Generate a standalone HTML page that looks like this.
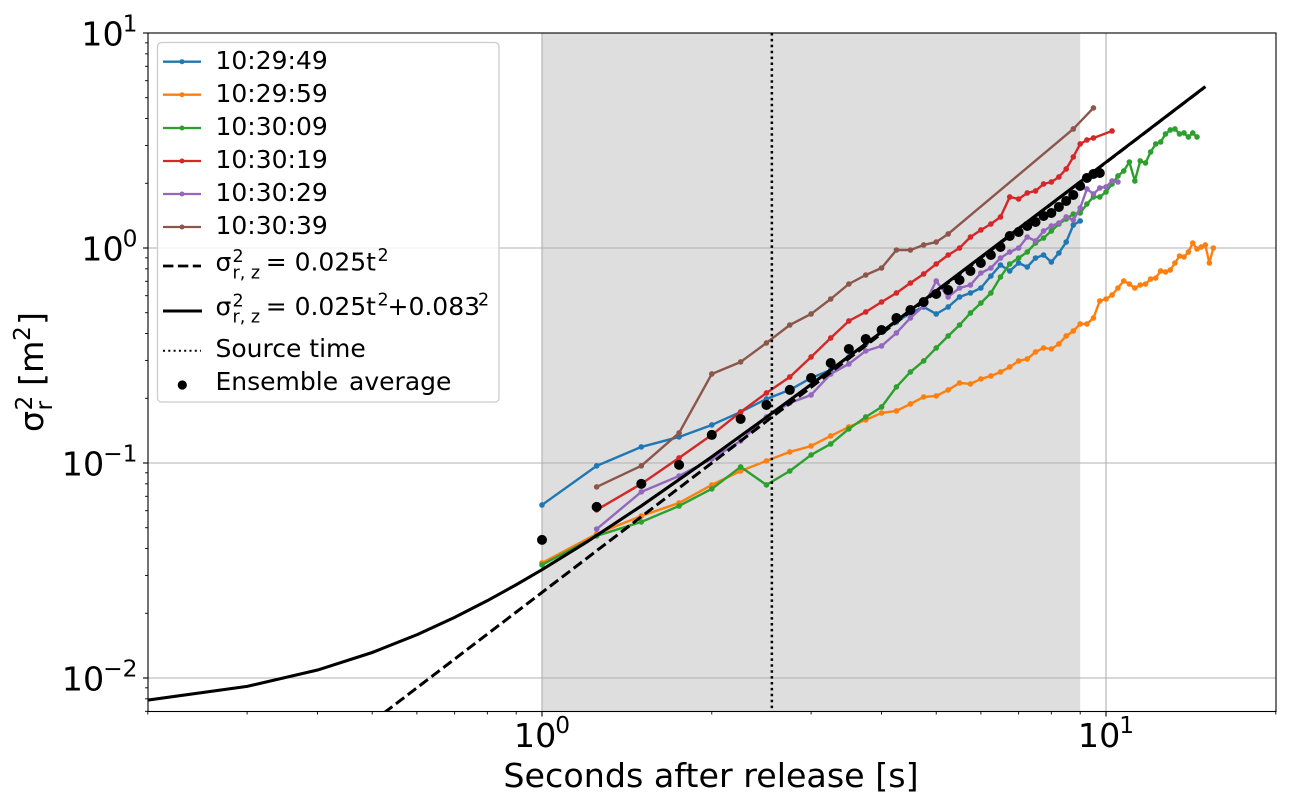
<!DOCTYPE html>
<html lang="en">
<head>
<meta charset="utf-8">
<title>Dispersion chart</title>
<style>
html,body{margin:0;padding:0;background:#fff;width:1291px;height:804px;overflow:hidden;}
svg{display:block;font-family:"DejaVu Sans","Liberation Sans",sans-serif;fill:#000;overflow:hidden;}
script{display:none;}
</style>
</head>
<body>
<svg id="chart" xmlns="http://www.w3.org/2000/svg" width="1291" height="804" viewBox="0 0 1291 804">
  <defs><clipPath id="plot-clip"><rect x="148" y="33" width="1128" height="679"/></clipPath></defs>
  <g id="plot-layer"></g>
  <g id="axes-layer"></g>

  <text x="711" y="787" font-size="33.3" text-anchor="middle">Seconds after release [s]</text>
  <g transform="translate(43,432) rotate(-90)">
    <text x="0" y="0" font-size="33.3">σ</text>
    <text x="21.5" y="-11" font-size="23.3">2</text>
    <text x="21.5" y="9" font-size="23.3">r</text>
    <text x="46" y="0" font-size="33.3">[m</text>
    <text x="91" y="-13" font-size="23.3">2</text>
    <text x="107" y="0" font-size="33.3">]</text>
  </g>

  <g font-size="25">
    <rect x="157.5" y="42.5" width="341.5" height="359.5" rx="4" fill="#fff" fill-opacity="0.8" stroke="#ccc" stroke-width="1.3"/>
    <g><line x1="163" x2="201" y1="61.7" y2="61.7" stroke="#1f77b4" stroke-width="2.3"/><circle cx="182" cy="61.7" r="2.5" fill="#1f77b4"/><text x="215.5" y="69">10:29:49</text></g>
    <g><line x1="163" x2="201" y1="94.7" y2="94.7" stroke="#ff7f0e" stroke-width="2.3"/><circle cx="182" cy="94.7" r="2.5" fill="#ff7f0e"/><text x="215.5" y="102">10:29:59</text></g>
    <g><line x1="163" x2="201" y1="128" y2="128" stroke="#2ca02c" stroke-width="2.3"/><circle cx="182" cy="128" r="2.5" fill="#2ca02c"/><text x="215.5" y="135">10:30:09</text></g>
    <g><line x1="163" x2="201" y1="161" y2="161" stroke="#d62728" stroke-width="2.3"/><circle cx="182" cy="161" r="2.5" fill="#d62728"/><text x="215.5" y="168">10:30:19</text></g>
    <g><line x1="163" x2="201" y1="194" y2="194" stroke="#9467bd" stroke-width="2.3"/><circle cx="182" cy="194" r="2.5" fill="#9467bd"/><text x="215.5" y="201">10:30:29</text></g>
    <g><line x1="163" x2="201" y1="227" y2="227" stroke="#8c564b" stroke-width="2.3"/><circle cx="182" cy="227" r="2.5" fill="#8c564b"/><text x="215.5" y="234">10:30:39</text></g>
    <g>
      <line x1="163" x2="201" y1="266" y2="266" stroke="#000" stroke-width="2.8" stroke-dasharray="10.4 4.5"/>
      <text x="215.5" y="270.5">σ</text><text x="232.5" y="262" font-size="17.5">2</text><text x="232.5" y="278.3" font-size="17.5">r, z</text>
      <text x="265.7" y="270.5">= 0.025t</text><text x="377.5" y="261" font-size="17.5">2</text>
    </g>
    <g>
      <line x1="163" x2="202" y1="311" y2="311" stroke="#000" stroke-width="3"/>
      <text x="215.5" y="315">σ</text><text x="232.5" y="306.7" font-size="17.5">2</text><text x="232.5" y="322.3" font-size="17.5">r, z</text>
      <text x="265.7" y="315">= 0.025t</text><text x="377.5" y="305.5" font-size="17.5">2</text>
      <text x="387.5" y="315">+0.083</text><text x="478" y="305.5" font-size="17.5">2</text>
    </g>
    <g><line x1="163" x2="201" y1="350.7" y2="350.7" stroke="#000" stroke-width="2" stroke-dasharray="2 3.3"/><text x="215.5" y="357">Source time</text></g>
    <g><circle cx="182.3" cy="385" r="4.6" fill="#000"/><text x="215.5" y="390" word-spacing="3">Ensemble average</text></g>
  </g>
</svg>

<script>
const timeGrid = [1,1.25,1.5,1.75,2,2.25,2.5,2.75,3,3.25,3.5,3.75,4,4.25,4.5,4.75,5,5.25,5.5,5.75,6,6.25,6.5,6.75,7,7.25,7.5,7.75,8,8.25,8.5,8.75,9,9.25,9.5,9.75,10,10.25,10.5,10.75,11,11.25,11.5,11.75,12,12.25,12.5,12.75,13,13.25,13.5,13.75,14,14.25,14.5,14.75,15,15.25,15.5];

const times102949 = timeGrid.slice(0,33);
const values102949 = [.0638,.0970,.1188,.1322,.1503,.1728,.1985,.2187,.2486,.2709,.3113,.3578,.4068,.4528,.4986,.5317,.4933,.5317,.5918,.6177,.6516,.7410,.8335,.7818,.8516,.8159,.8985,.9278,.8608,.9479,1.066,1.279,1.336];

const times102959 = timeGrid.slice(0,59);
const values102959 = [.0343,.0468,.0567,.0652,.0791,.0918,.1023,.1126,.1200,.1336,.1472,.1586,.1709,.1746,.1882,.2029,.2051,.2187,.2357,.2332,.2460,.2540,.2651,.2797,.2983,.3047,.3285,.3428,.3392,.3578,.3898,.4112,.4432,.4432,.4726,.5670,.5792,.6046,.6516,.7024,.6801,.6516,.6728,.6801,.7175,.7253,.7818,.7735,.7902,.8516,.9180,.9082,.9582,1.055,.9894,1.011,1.033,.8516,1.000];

const times103009 = timeGrid.slice(0,55);
const values103009 = [.0336,.0458,.0532,.0631,.0758,.0959,.0791,.0918,.1090,.1226,.1440,.1637,.1822,.2258,.2651,.2983,.3428,.3898,.4384,.4986,.5549,.6177,.7331,.8426,.8985,.9582,1.055,1.113,1.200,1.293,1.364,1.439,1.455,1.602,1.727,1.727,1.822,1.985,2.163,2.282,2.512,2.050,2.540,2.486,2.797,3.047,3.113,3.391,3.540,3.578,3.391,3.428,3.284,3.428,3.284];

const times103019 = [1.25,1.5,1.75,2,2.25,2.5,2.75,3,3.25,3.5,3.75,4,4.25,4.5,4.75,5,5.25,5.5,5.75,6,6.25,6.5,6.75,7,7.25,7.5,7.75,8,8.25,8.5,8.75,9,9.25,9.5,10.25];
const values103019 = [.0605,.0800,.1056,.1351,.1728,.2117,.2513,.3113,.3815,.4577,.5040,.5609,.6177,.6874,.7571,.8426,.9278,1,1.125,1.213,1.293,1.394,1.727,1.690,1.803,1.842,1.985,2.028,2.140,2.331,2.651,3.047,3.180,3.249,3.502];

const times103029 = timeGrid.slice(1,39);
const values103029 = [.0493,.0734,.0870,.1045,.1267,.1637,.1902,.2072,.2595,.2888,.3320,.3502,.4025,.4726,.5374,.7024,.5918,.6516,.6728,.7652,.8072,.8985,.9582,1,1.125,1.078,1.200,1.266,1.307,1.394,1.350,1.535,1.882,1.784,1.902,1.923,2.050,2.028];

const times103039 = [1.25,1.5,1.75,2,2.25,2.5,2.75,3,3.25,3.5,3.75,4,4.25,4.5,4.75,5,5.25,8.75,9.5];
const values103039 = [.0774,.0970,.1380,.2595,.2951,.3617,.4384,.4933,.5792,.6801,.7489,.8072,.9789,.9789,1.033,1.066,1.162,3.578,4.481];

const fitDashedTimes = [.5,.6,.7,.8,.9,1,1.2,1.5,2,2.5,3,4,5,6,8,10,12,15];
const fitDashedValues = [.00625,.009,.01225,.016,.02025,.025,.036,.05625,.1,.15625,.225,.4,.625,.9,1.6,2.5,3.6,5.625];
const fitSolidTimes = [.2,.3,.4,.5,.6,.7,.8,.9,1,1.2,1.5,2,2.5,3,4,5,6,8,10,12,15];
const fitSolidValues = [.00789,.00914,.01089,.01314,.01589,.01914,.02289,.02714,.03189,.04289,.06314,.10689,.16314,.23189,.40689,.63189,.90689,1.60689,2.50689,3.60689,5.63189];

const ensembleTimes = timeGrid.slice(0,36);
const ensembleValues = [.0439,.0625,.0800,.0980,.1351,.1603,.1862,.2187,.2486,.2919,.3392,.3775,.4156,.4726,.5149,.5609,.6112,.6379,.7099,.7818,.8516,.9278,1.011,1.137,1.187,1.266,1.321,1.409,1.455,1.552,1.655,1.765,1.943,2.117,2.210,2.233];

const sourceTime = 2.556;
const shadeStart = 1;
const shadeEnd = 9;

const xMajorTicks = [1,10];
const xMajorLabels = ['0','1'];
const xMinorTicks = [.2,.3,.4,.5,.6,.7,.8,.9,2,3,4,5,6,7,8,9,20];
const yMajorTicks = [10,1,.1,.01];
const yMajorLabels = ['1','0','\u22121','\u22122'];
const yMinorTicks = [9,8,7,6,5,4,3,2,.9,.8,.7,.6,.5,.4,.3,.2,.09,.08,.07,.06,.05,.04,.03,.02,.009,.008,.007];

const NS = 'http://www.w3.org/2000/svg';
const PLOT = {left:148, right:1276, top:33, bottom:711.5};
function xScale(t){ return 542 + 564 * Math.log10(t); }
function yScale(v){ return 248 - 215 * Math.log10(v); }
function make(tag, attrs, parent){
  const el = document.createElementNS(NS, tag);
  for (const k in attrs) el.setAttribute(k, attrs[k]);
  parent.appendChild(el);
  return el;
}
function pathFrom(ts, vs){
  return ts.map(function(t,i){ return (i?'L':'M') + xScale(t).toFixed(2) + ' ' + yScale(vs[i]).toFixed(2); }).join('');
}

const plot = document.getElementById('plot-layer');
const axes = document.getElementById('axes-layer');

const shade = make('rect', {x:xScale(shadeStart), y:PLOT.top, width:xScale(shadeEnd)-xScale(shadeStart), height:PLOT.bottom-PLOT.top, fill:'#dedede'}, plot);



xMajorTicks.forEach(function(t){
  const g = make('line', {x1:xScale(t), x2:xScale(t), y1:PLOT.top, y2:PLOT.bottom, stroke:'#b0b0b0', 'stroke-width':1.1}, plot);
  
  
});
yMajorTicks.forEach(function(v){
  const g = make('line', {x1:PLOT.left, x2:PLOT.right, y1:yScale(v), y2:yScale(v), stroke:'#b0b0b0', 'stroke-width':1.1}, plot);
  
  
});

const clipped = make('g', {'clip-path':'url(#plot-clip)'}, plot);



const seriesList = [
  {name:'series-102949', color:'#1f77b4', times:times102949, values:values102949},
  {name:'series-102959', color:'#ff7f0e', times:times102959, values:values102959},
  {name:'series-103009', color:'#2ca02c', times:times103009, values:values103009},
  {name:'series-103019', color:'#d62728', times:times103019, values:values103019},
  {name:'series-103029', color:'#9467bd', times:times103029, values:values103029},
  {name:'series-103039', color:'#8c564b', times:times103039, values:values103039}
];
seriesList.forEach(function(s){
  const line = make('path', {d:pathFrom(s.times, s.values), fill:'none', stroke:s.color, 'stroke-width':2.4, 'stroke-linejoin':'round'}, clipped);
  
  
  s.times.forEach(function(t,i){
    const p = make('circle', {cx:xScale(t), cy:yScale(s.values[i]), r:2.8, fill:s.color}, clipped);
    
    
  });
});

const dashed = make('path', {d:pathFrom(fitDashedTimes, fitDashedValues), fill:'none', stroke:'#000', 'stroke-width':3, 'stroke-dasharray':'10.4 4.5'}, clipped);



const solid = make('path', {d:pathFrom(fitSolidTimes, fitSolidValues), fill:'none', stroke:'#000', 'stroke-width':3.1}, clipped);



const srcLine = make('line', {x1:xScale(sourceTime), x2:xScale(sourceTime), y1:PLOT.top, y2:PLOT.bottom, stroke:'#000', 'stroke-width':2.5, 'stroke-dasharray':'2.5 3.4'}, clipped);



ensembleTimes.forEach(function(t,i){
  const d = make('circle', {cx:xScale(t), cy:yScale(ensembleValues[i]), r:5, fill:'#000'}, clipped);
  
  
});

const frame = make('rect', {x:PLOT.left, y:PLOT.top, width:PLOT.right-PLOT.left, height:PLOT.bottom-PLOT.top, fill:'none', stroke:'#000', 'stroke-width':1.1}, axes);



xMajorTicks.forEach(function(t,i){
  const tick = make('line', {x1:xScale(t), x2:xScale(t), y1:PLOT.bottom, y2:PLOT.bottom+5, stroke:'#000', 'stroke-width':1.1}, axes);
  
  
  const label = make('text', {x:xScale(t), y:747, 'font-size':33.3, 'text-anchor':'middle'}, axes);
  
  
  label.appendChild(document.createTextNode('10'));
  const sup = make('tspan', {dy:-14, dx:-1, 'font-size':23.3}, label);
  sup.textContent = xMajorLabels[i];
});
xMinorTicks.forEach(function(t){
  const tick = make('line', {x1:xScale(t), x2:xScale(t), y1:PLOT.bottom, y2:PLOT.bottom+3, stroke:'#000', 'stroke-width':0.9}, axes);
  
  
});
yMajorTicks.forEach(function(v,i){
  const tick = make('line', {x1:PLOT.left-5, x2:PLOT.left, y1:yScale(v), y2:yScale(v), stroke:'#000', 'stroke-width':1.1}, axes);
  
  
  const label = make('text', {x:137.5, y:yScale(v)+12.5, 'font-size':33.3, 'text-anchor':'end'}, axes);
  
  
  label.appendChild(document.createTextNode('10'));
  const sup = make('tspan', {dy:-14, dx:-1, 'font-size':23.3}, label);
  sup.textContent = yMajorLabels[i];
});
yMinorTicks.forEach(function(v){
  const tick = make('line', {x1:PLOT.left-3, x2:PLOT.left, y1:yScale(v), y2:yScale(v), stroke:'#000', 'stroke-width':0.9}, axes);
  
  
});
</script>
</body>
</html>
